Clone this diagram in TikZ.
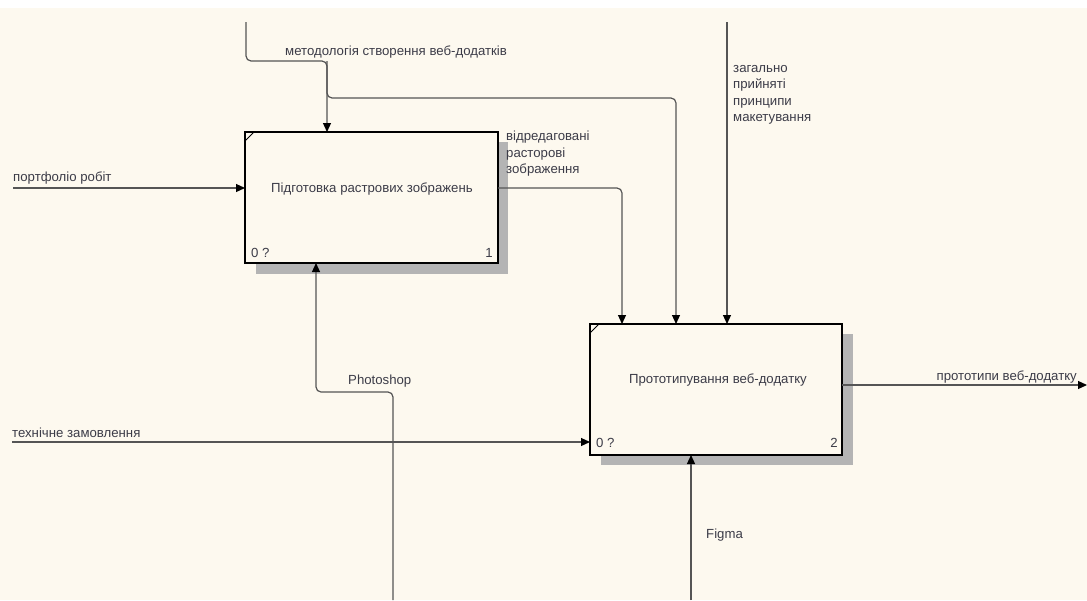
\documentclass[tikz,border=0pt]{standalone}
\usepackage{fontspec}
\setmainfont{Liberation Sans}
\usetikzlibrary{arrows.meta,calc}
\definecolor{bg}{HTML}{FDF9EF}
\definecolor{ln}{HTML}{555555}
\definecolor{tx}{HTML}{3C3C48}
\definecolor{sh}{HTML}{B4B4B4}
\tikzset{
  conn/.style={draw=ln, line width=1.2pt, rounded corners=5pt},
  arr/.style={conn, -{Triangle[length=9pt,width=8pt,color=black]}},
  lbl/.style={text=tx, font=\fontsize{13.2}{16.5}\selectfont, inner sep=0pt, align=left},
  actbox/.style={draw=black, line width=2pt, fill=bg, minimum width=253pt, minimum height=131pt, inner sep=0pt},
}
\begin{document}
\begin{tikzpicture}[x=1pt,y=-1pt]
\useasboundingbox (0,0) rectangle (1087,600);
\fill[bg] (0,0) rectangle (1087,600);
\fill[white] (0,0) rectangle (1087,8);
% shadows
\fill[sh] (256,142) rectangle (508,274);
\fill[sh] (601,334) rectangle (853,465);
% boxes
\node[actbox] (b1) at (371.5,197.5) {};
\node[actbox, minimum width=252pt] (b2) at (716,389.5) {};
\node[lbl] (t1) at (372,189) {Підготовка растрових зображень};
\node[lbl] (t2) at (718,380) {Прототипування веб-додатку};
\node[lbl, anchor=west] (n1) at (251,253) {0 ?};
\node[lbl, anchor=east] (i1) at (493,253) {1};
\node[lbl, anchor=west] (n2) at (596,443) {0 ?};
\node[lbl, anchor=east] (i2) at (838,443) {2};
\draw[line width=1pt] ($(b1.north west)+(1,10)$) -- ($(b1.north west)+(10,1)$);
\draw[line width=1pt] ($(b2.north west)+(1,10)$) -- ($(b2.north west)+(10,1)$);
% coordinates
\coordinate (m0) at (246,22);
\coordinate (mA) at (246,61);
\coordinate (mB) at (327,61);
\coordinate (mC) at (327,98);
\coordinate (mD) at (676,98);
\coordinate (b1top) at (327,132);
\coordinate (b2topA) at (622,324);
\coordinate (b2topB) at (676,324);
\coordinate (b2topC) at (727,324);
\coordinate (g0) at (727,22);
\coordinate (p0) at (13,188);
\coordinate (b1left) at (245,188);
\coordinate (o1) at (498,188);
\coordinate (o1b) at (622,188);
\coordinate (q0) at (12,442);
\coordinate (b2left) at (590,442);
\coordinate (ph0) at (393,600);
\coordinate (ph1) at (393,392);
\coordinate (ph2) at (316,392);
\coordinate (b1bot) at (316,263);
\coordinate (o2) at (842,385);
\coordinate (o2e) at (1087,385);
\coordinate (f0) at (691,600);
\coordinate (b2bot) at (691,455);
% connectors
\draw[arr] (m0) -- (mA) -- (mB) -- (b1top);
\draw[arr] (mB) -- (mC) -- (mD) -- (b2topB);
\draw[arr] (g0) -- (b2topC);
\draw[arr] (p0) -- (b1left);
\draw[arr] (o1) -- (o1b) -- (b2topA);
\draw[arr] (q0) -- (b2left);
\draw[arr] (ph0) -- (ph1) -- (ph2) -- (b1bot);
\draw[arr] (o2) -- (o2e);
\draw[arr] (f0) -- (b2bot);
% labels
\node[lbl, anchor=west] (lm) at (285,52) {методологія створення веб-додатків};
\node[lbl, anchor=north west] (lg) at (733,65) {загально\\прийняті\\принципи\\макетування};
\node[lbl, anchor=north west] (lo1) at (506,131) {відредаговані\\расторові\\зображення};
\node[lbl, anchor=west] (lp) at (13,178) {портфоліо робіт};
\node[lbl, anchor=west] (lq) at (12,433) {технічне замовлення};
\node[lbl, anchor=east] (lo2) at (1077,377) {прототипи веб-додатку};
\node[lbl, anchor=west] (lph) at (348,381) {Photoshop};
\node[lbl, anchor=west] (lf) at (706,535) {Figma};
\end{tikzpicture}
\end{document}
